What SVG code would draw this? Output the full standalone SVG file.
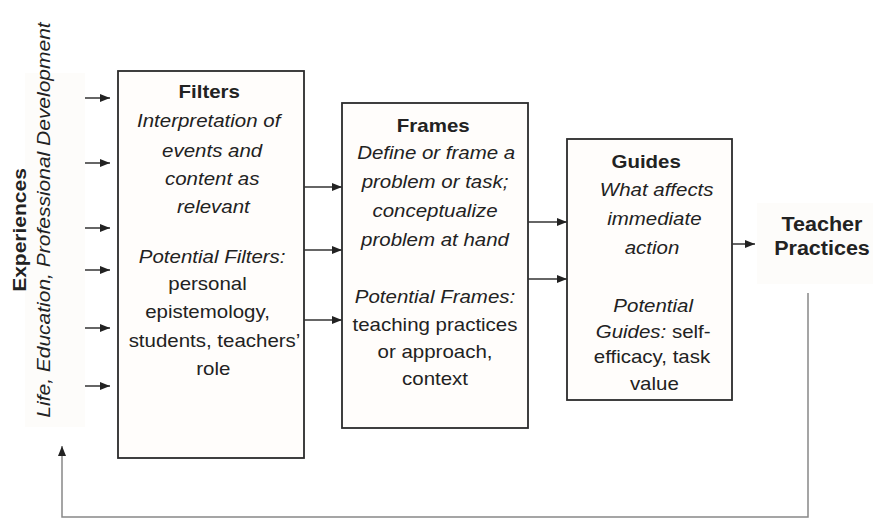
<svg xmlns="http://www.w3.org/2000/svg" width="873" height="518" viewBox="0 0 873 518">
<defs>
<style>
.box{fill:#fffdfb;stroke:#2b2b2b;stroke-width:1.8}
.bg{fill:#fdfcfa;stroke:none}
.t{font-family:"Liberation Sans",Arial,sans-serif;font-size:17.5px;fill:#222;text-anchor:middle}
.b{font-weight:bold}
.i{font-style:italic}
.arr{stroke:#333;stroke-width:1.5;fill:none;marker-end:url(#ah)}
.fb{stroke:#888;stroke-width:1.5;fill:none}
</style>
<marker id="ah" markerUnits="userSpaceOnUse" markerWidth="10" markerHeight="8" refX="10" refY="4" orient="auto">
<path d="M0,0 L10,4 L0,8 z" fill="#222"/>
</marker>
</defs>
<rect width="873" height="518" fill="#ffffff"/>

<g id="experiences">
<rect class="bg" x="25" y="73" width="60" height="354"/>
<text class="t b" transform="translate(26,230) rotate(-90) scale(1.2,1)">Experiences</text>
<text class="t i" transform="translate(50,220) rotate(-90) scale(1.2,1)">Life,  Education,  Professional Development</text>
</g>

<g id="filters">
<rect class="box" x="118" y="71" width="186" height="387"/>
<g transform="translate(211,0) scale(1.17,1)">
<text class="t b" x="-1.5" y="98">Filters</text>
<text class="t i" x="-2" y="127">Interpretation of</text>
<text class="t i" x="1" y="157">events and</text>
<text class="t i" x="1" y="185">content as</text>
<text class="t i" x="2" y="213">relevant</text>
<text class="t i" x="1" y="263">Potential Filters:</text>
<text class="t" x="-3" y="290">personal</text>
<text class="t" x="-3" y="318">epistemology,</text>
<text class="t" x="3" y="347">students, teachers’</text>
<text class="t" x="2" y="375">role</text>
</g>
</g>

<g id="frames">
<rect class="box" x="342" y="103" width="186" height="325"/>
<g transform="translate(435,0) scale(1.17,1)">
<text class="t b" x="-1.5" y="132">Frames</text>
<text class="t i" x="1" y="159">Define or frame a</text>
<text class="t i" x="0" y="188">problem or task;</text>
<text class="t i" x="0" y="217">conceptualize</text>
<text class="t i" x="0" y="246">problem at hand</text>
<text class="t i" x="0" y="303">Potential Frames:</text>
<text class="t" x="0" y="331">teaching practices</text>
<text class="t" x="0" y="358">or approach,</text>
<text class="t" x="0" y="385">context</text>
</g>
</g>

<g id="guides">
<rect class="box" x="567" y="139" width="165" height="261"/>
<g transform="translate(652,0) scale(1.17,1)">
<text class="t b" x="-5" y="168">Guides</text>
<text class="t i" x="4" y="196">What affects</text>
<text class="t i" x="2" y="225">immediate</text>
<text class="t i" x="0" y="254">action</text>
<text class="t i" x="1" y="312">Potential</text>
<text class="t" x="1" y="338"><tspan class="i">Guides:</tspan> self-</text>
<text class="t" x="0" y="363">efficacy, task</text>
<text class="t" x="2" y="390">value</text>
</g>
</g>

<g id="teacher-practices">
<rect class="bg" x="757" y="203" width="116" height="81"/>
<g transform="translate(822,0) scale(1.05,1)">
<text class="t b" x="0" y="231" style="font-size:20.5px">Teacher</text>
<text class="t b" x="0" y="255" style="font-size:20.5px">Practices</text>
</g>
</g>

<g id="connectors">
<line class="arr" x1="85" y1="98" x2="110" y2="98"/>
<line class="arr" x1="85" y1="163" x2="110" y2="163"/>
<line class="arr" x1="85" y1="228" x2="110" y2="228"/>
<line class="arr" x1="85" y1="270" x2="110" y2="270"/>
<line class="arr" x1="85" y1="328" x2="110" y2="328"/>
<line class="arr" x1="85" y1="386" x2="110" y2="386"/>
<line class="arr" x1="304" y1="187" x2="342" y2="187"/>
<line class="arr" x1="304" y1="250" x2="342" y2="250"/>
<line class="arr" x1="304" y1="320" x2="342" y2="320"/>
<line class="arr" x1="528" y1="222" x2="567" y2="222"/>
<line class="arr" x1="528" y1="279" x2="567" y2="279"/>
<line class="arr" x1="732" y1="244" x2="755" y2="244"/>
<polyline class="fb" points="808,293 808,517 62,517 62,446" marker-end="url(#ah)"/>
</g>
</svg>
